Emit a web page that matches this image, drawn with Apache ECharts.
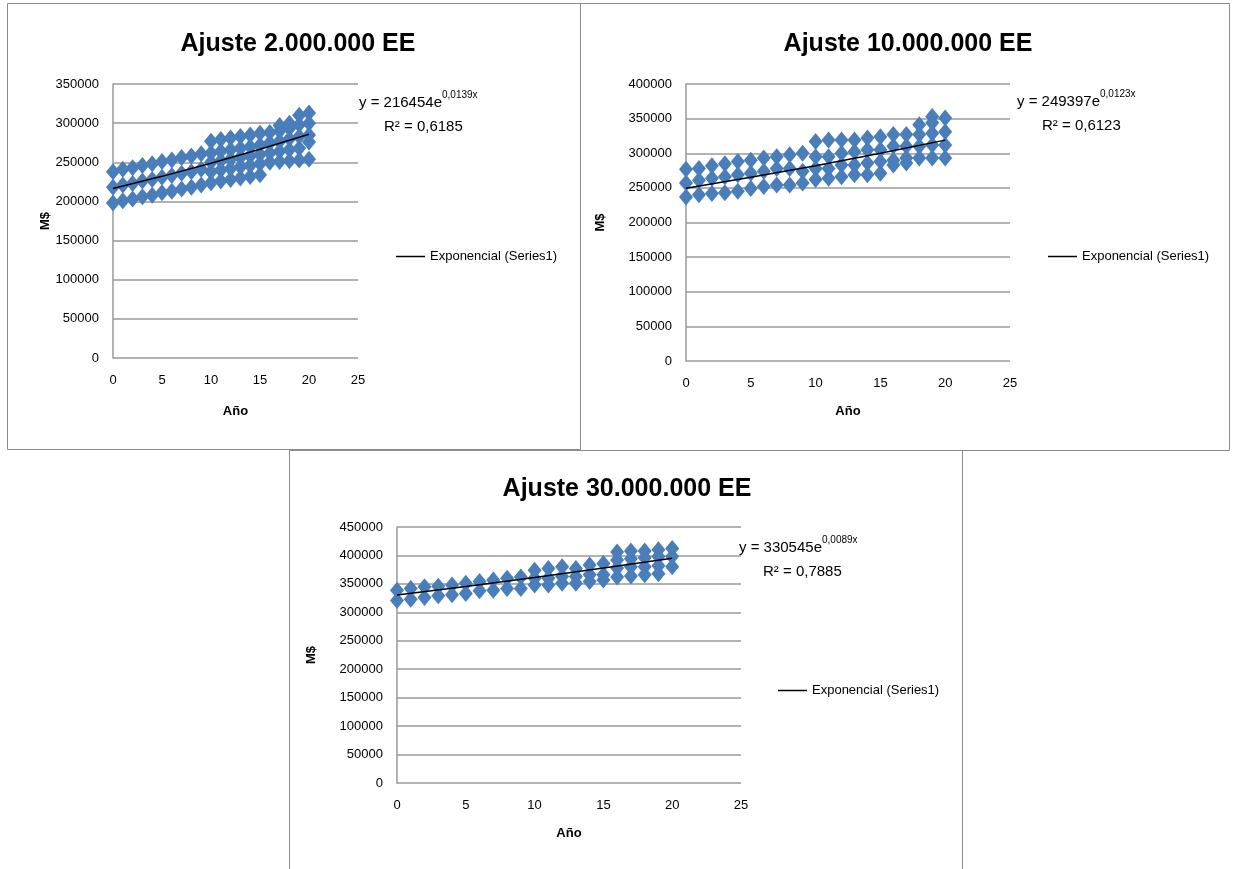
<!DOCTYPE html>
<html>
<head>
<meta charset="utf-8">
<script src="https://cdn.jsdelivr.net/npm/echarts@6/dist/echarts.min.js"></script>
<style>
html,body{margin:0;padding:0;background:#fff;}
#c{width:1233px;height:869px;}
</style>
</head>
<body>
<div id="c"></div>
<script>
// ---------- data ----------
const years = [0,1,2,3,4,5,6,7,8,9,10,11,12,13,14,15,16,17,18,19,20];

const titles = ['Ajuste 2.000.000 EE', 'Ajuste 10.000.000 EE', 'Ajuste 30.000.000 EE'];
const eqCoef = ['216454', '249397', '330545'];
const eqExp = ['0,0139x', '0,0123x', '0,0089x'];
const r2 = ['0,6185', '0,6123', '0,7885'];

const xTicks = [0, 5, 10, 15, 20, 25];
const yMax = [350000, 400000, 450000];

// Chart 1 (2.000.000 EE) values per year
const vals1 = [
  [198000, 218000, 238000],
  [201000, 221000, 241000],
  [203000, 223000, 243000],
  [206000, 226000, 246000],
  [208000, 228000, 248000],
  [211000, 231000, 251000],
  [213000, 233000, 253000],
  [216000, 236000, 256000],
  [218000, 238000, 258000],
  [221000, 241000, 261000],
  [224000, 238000, 250000, 262000, 277000],
  [226000, 240000, 252000, 264000, 279000],
  [228000, 242000, 254000, 266000, 281000],
  [230000, 244000, 256000, 268000, 283000],
  [232000, 246000, 258000, 270000, 285000],
  [234000, 248000, 260000, 272000, 287000],
  [250000, 262000, 275000, 288000],
  [251000, 264000, 277000, 290000, 297000],
  [252000, 266000, 280000, 293000, 300000],
  [253000, 268000, 283000, 298000, 310000],
  [254000, 276000, 285000, 300000, 313000]
];

// Chart 2 (10.000.000 EE) values per year
const vals2 = [
  [237000, 257000, 277000],
  [240000, 261000, 278000],
  [242000, 264000, 282000],
  [243000, 266000, 285000],
  [245000, 269000, 288000],
  [249000, 271000, 290000],
  [252000, 274000, 293000],
  [254000, 278000, 295000],
  [254000, 278000, 298000],
  [257000, 274000, 300000],
  [262000, 278000, 295000, 317000],
  [264000, 278000, 295000, 319000],
  [266000, 283000, 300000, 319000],
  [269000, 283000, 302000, 319000],
  [269000, 286000, 305000, 322000],
  [271000, 288000, 305000, 324000],
  [283000, 290000, 310000, 327000],
  [286000, 293000, 310000, 327000],
  [293000, 310000, 327000, 341000],
  [293000, 312000, 329000, 344000, 353000],
  [293000, 312000, 331000, 351000]
];

// Chart 3 (30.000.000 EE) values per year
const vals3 = [
  [321000, 339000],
  [323000, 342000],
  [326000, 345000],
  [329000, 346000],
  [331000, 348000],
  [333000, 351000],
  [338000, 354000],
  [339000, 357000],
  [342000, 360000],
  [342000, 362000],
  [348000, 360000, 374000],
  [348000, 360000, 377000],
  [351000, 363000, 380000],
  [351000, 363000, 377000],
  [354000, 366000, 383000],
  [357000, 366000, 386000],
  [362000, 378000, 392000, 406000],
  [364000, 380000, 394000, 408000],
  [366000, 380000, 396000, 408000],
  [368000, 382000, 398000, 410000],
  [380000, 398000, 412000]
];

// exponential trend line values read at years 0,5,10,15,20
const trendYears = [0, 5, 10, 15, 20];
const trend1 = [216454, 232032, 248726, 266630, 285832];
const trend2 = [249397, 265216, 282041, 299928, 318953];
const trend3 = [330545, 345586, 361311, 377757, 394942];

// ---------- build ----------
const FONT = 'Liberation Sans, Arial, sans-serif';
const allVals = [vals1, vals2, vals3];
const allTrend = [trend1, trend2, trend3];

const grids = [
  {left: 113, top: 84, width: 245, height: 274},
  {left: 686, top: 84, width: 324, height: 277},
  {left: 397, top: 527, width: 344, height: 256}
];
const yNameGap = [21, 79, 79];
const xNameGap = [47, 44, 44];
const legendPos = [{left: 391, top: 245}, {left: 1043, top: 245}, {left: 773, top: 679}];
const eqPos = [{x: 359, y: 90, rx: 384, ry: 119}, {x: 1017, y: 89, rx: 1042, ry: 118}, {x: 739, y: 535, rx: 763, ry: 564}];
const titlePos = [{x: 293, y: 27}, {x: 903, y: 27}, {x: 622, y: 472}];

const xAxes = [], yAxes = [], series = [], titleArr = [], legends = [], graphics = [];

// panel borders
const panels = [[7, 3, 573, 446], [580, 3, 649, 447], [289, 450, 673, 430]];
panels.forEach(p => graphics.push({
  type: 'rect', shape: {x: p[0] + 0.5, y: p[1] + 0.5, width: p[2], height: p[3]},
  style: {fill: '#fff', stroke: '#8c8c8c', lineWidth: 1}, z: -10, silent: true
}));

for (let i = 0; i < 3; i++) {
  xAxes.push({
    type: 'value', gridIndex: i, min: 0, max: 25, interval: 5,
    name: 'Año', nameLocation: 'middle', nameGap: xNameGap[i],
    nameTextStyle: {fontFamily: FONT, fontWeight: 'bold', fontSize: 13, color: '#000'},
    axisLine: {show: false},
    axisTick: {show: false},
    axisLabel: {fontFamily: FONT, fontSize: 13, color: '#000', margin: 16,
      formatter: v => xTicks.includes(v) ? String(v) : ''},
    splitLine: {show: false}
  });
  yAxes.push({
    type: 'value', gridIndex: i, min: 0, max: yMax[i], interval: 50000,
    name: 'M$', nameLocation: 'middle', nameGap: yNameGap[i], nameRotate: 90,
    nameTextStyle: {fontFamily: FONT, fontWeight: 'bold', fontSize: 13, color: '#000'},
    axisLine: {show: true, onZero: false, lineStyle: {color: '#999', width: 1.5}},
    axisTick: {show: false},
    axisLabel: {fontFamily: FONT, fontSize: 13, color: '#000', margin: 14,
      formatter: v => String(v)},
    splitLine: {show: true, lineStyle: {color: '#999', width: 1.5}}
  });
  const pts = [];
  years.forEach((x, k) => allVals[i][k].forEach(v => pts.push([x, v])));
  series.push({
    type: 'scatter', name: 'Series1', xAxisIndex: i, yAxisIndex: i,
    symbol: 'diamond', symbolSize: [14, 17],
    itemStyle: {color: '#4A7EBB', opacity: 1},
    data: pts, z: 2, silent: true
  });
  series.push({
    type: 'line', name: 'Exponencial (Series1)', xAxisIndex: i, yAxisIndex: i,
    symbol: 'none', lineStyle: {color: '#000', width: 1.5}, itemStyle: {color: '#000'},
    data: trendYears.map((x, k) => [x, allTrend[i][k]]), z: 3, silent: true
  });
  titleArr.push({
    text: titles[i], left: titlePos[i].x, top: titlePos[i].y, textAlign: 'center',
    textStyle: {fontFamily: FONT, fontWeight: 'bold', fontSize: 25, color: '#000'}
  });
  legends.push({
    data: [{name: 'Exponencial (Series1)', icon: 'rect'}],
    left: legendPos[i].left, top: legendPos[i].top, orient: 'vertical',
    itemWidth: 29, itemHeight: 1.5, itemGap: 5, selectedMode: false,
    textStyle: {fontFamily: FONT, fontSize: 13, color: '#000', padding: [0, 0, 0, 0]}
  });
  graphics.push({
    type: 'text', left: eqPos[i].x, top: eqPos[i].y, z: 10,
    style: {
      text: '{a|y = ' + eqCoef[i] + 'e}{b|' + eqExp[i] + '}',
      rich: {
        a: {fontFamily: FONT, fontSize: 15, fill: '#000', verticalAlign: 'bottom', lineHeight: 20},
        b: {fontFamily: FONT, fontSize: 10, fill: '#000', verticalAlign: 'top', lineHeight: 20}
      }
    }
  });
  graphics.push({
    type: 'text', left: eqPos[i].rx, top: eqPos[i].ry, z: 10,
    style: {text: 'R² = ' + r2[i], font: '15px ' + FONT, fill: '#000'}
  });
}

const chart = echarts.init(document.getElementById('c'), null, {renderer: 'canvas'});
chart.setOption({
  animation: false,
  backgroundColor: '#fff',
  title: titleArr,
  legend: legends,
  grid: grids,
  xAxis: xAxes,
  yAxis: yAxes,
  series: series,
  graphic: graphics
});
</script>
</body>
</html>
